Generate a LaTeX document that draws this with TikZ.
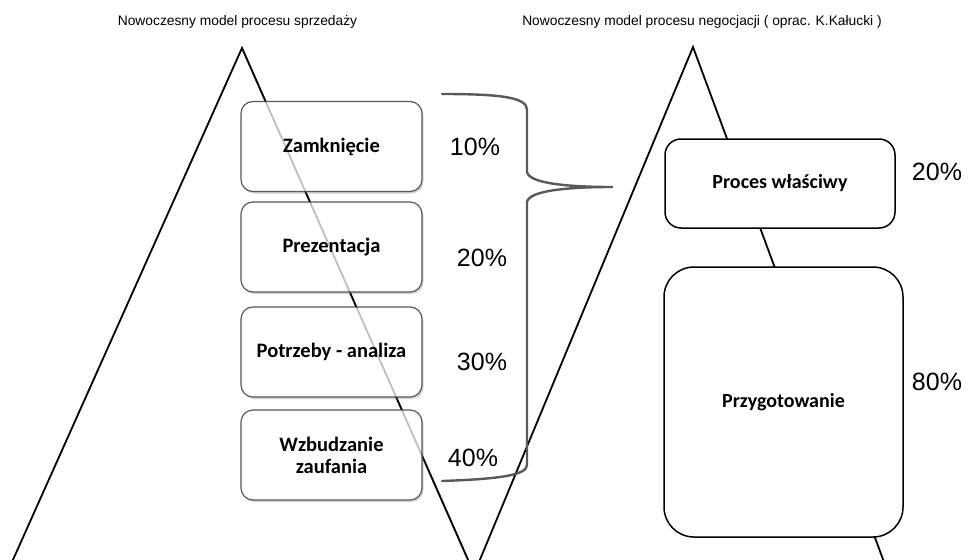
\documentclass[tikz,border=0pt]{standalone}
\usepackage{fontspec}
\setmainfont{Carlito}
\newfontfamily\arialf{Liberation Sans}
\usetikzlibrary{shadows}
\begin{document}
\begin{tikzpicture}[x=1pt,y=-1pt,
  leg/.style={line width=1.8pt, black},
  lbox/.style={draw=gray!70!black, line width=1.2pt, rounded corners=12pt, fill=white,
    minimum width=181pt, minimum height=90pt, inner sep=0pt, font=\fontsize{20.5}{22}\selectfont\bfseries, align=center,
    drop shadow={shadow xshift=1.5pt, shadow yshift=-2pt, opacity=0.35}},
  rbox/.style={draw=black, line width=1.5pt, fill=white, inner sep=0pt, font=\fontsize{20}{22}\selectfont\bfseries, align=center},
  pct/.style={font=\arialf\fontsize{25}{27}\selectfont, inner sep=0pt},
  ttl/.style={font=\arialf\fontsize{13.8}{15}\selectfont, inner sep=0pt},
  bracestyle/.style={draw=black!65, line width=2.4pt, line cap=round}
]
\useasboundingbox (0,0) rectangle (968,559);
\fill[white] (0,0) rectangle (968,559);

% titles
\node[ttl] (t1) at (237.5,22) {Nowoczesny model procesu sprzedaży};
\node[ttl] (t2) at (702,22) {Nowoczesny model procesu negocjacji ( oprac. K.Kałucki )};

% triangles
\coordinate (LA) at (242,48);
\coordinate (LL) at (12,562);
\coordinate (LR) at (469,562);
\coordinate (RA) at (693,47);
\coordinate (RL) at (479,562);
\coordinate (RR) at (884,562);
\draw[leg, line join=miter] (LL) -- (LA) -- (LR);
\draw[leg, line join=miter] (RL) -- (RA) -- (RR);

% left boxes
\node[lbox] (b1) at (331.5,146.5) {Zamknięcie};
\node[lbox] (b2) at (331.5,247) {Prezentacja};
\node[lbox] (b3) at (331.5,352) {Potrzeby - analiza};
\node[lbox] (b4) at (331.5,455) {Wzbudzanie\\zaufania};
% leg seen faintly through the boxes
\draw[leg, draw opacity=0.25] (LA) -- (LR);

% percentages left
\node[pct] (p1) at (475,147) {10\%};
\node[pct] (p2) at (482,258) {20\%};
\node[pct] (p3) at (482,362) {30\%};
\node[pct] (p4) at (473,458) {40\%};

% brace
\coordinate (bt) at (442,94);
\coordinate (bb) at (442,481);
\coordinate (tip) at (613,187);
\draw[bracestyle] (bt) .. controls (505,94) and (527,98) .. (527,110)
  -- (527,172) .. controls (529,183) and (565,187) .. (tip)
  .. controls (565,187) and (529,191) .. (527,202)
  -- (527,465) .. controls (527,475) and (500,479) .. (bb);

% right boxes
\node[rbox, rounded corners=16pt, minimum width=230pt, minimum height=89pt] (proc) at (780,183.5) {Proces właściwy};
\node[rbox, rounded corners=30pt, minimum width=239pt, minimum height=270pt] (prep) at (783.5,402) {Przygotowanie};

\node[pct] (p5) at (937,172) {20\%};
\node[pct] (p6) at (937,382) {80\%};
\end{tikzpicture}
\end{document}
